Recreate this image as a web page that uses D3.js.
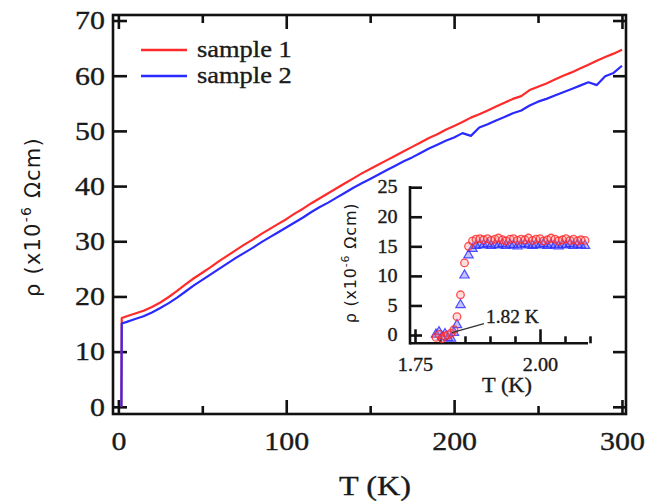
<!DOCTYPE html>
<html><head><meta charset="utf-8">
<script src="https://cdn.jsdelivr.net/npm/d3@7"></script>
<style>
html,body{margin:0;padding:0;background:#fff;}
svg{display:block;}
.serif{font-family:"Liberation Serif","Times New Roman",serif;fill:#1a1a1a;stroke:#1a1a1a;stroke-width:0.35px;}
.sans{font-family:"DejaVu Sans",sans-serif;fill:#1a1a1a;}
</style></head>
<body>
<svg id="chart" width="645" height="502"></svg>
<script>
// ---------- DATA ----------
const mainT = [1.8, 2, 5, 10, 15, 20, 25, 30, 35, 40, 45, 50, 55, 60, 65, 70, 75, 80, 85, 90, 95, 100,
  105, 110, 115, 120, 125, 130, 135, 140, 145, 150, 155, 160, 165, 170, 175, 180, 185, 190, 195, 200,
  205, 210, 215, 220, 225, 230, 235, 240, 245, 250, 255, 260, 265, 270, 275, 280, 285, 290, 295, 300];
const sample1 = [0, 16.1, 16.4, 16.9, 17.4, 18.1, 18.9, 19.9, 21.0, 22.2, 23.3, 24.3, 25.3, 26.4, 27.4, 28.4, 29.4,
  30.3, 31.3, 32.2, 33.1, 34.0, 35.0, 35.9, 36.9, 37.8, 38.7, 39.6, 40.5, 41.4, 42.3, 43.1, 43.9, 44.7, 45.5,
  46.3, 47.1, 47.9, 48.7, 49.4, 50.2, 50.9, 51.6, 52.4, 53.0, 53.7, 54.4, 55.1, 55.8, 56.3, 57.4, 58.0, 58.6,
  59.3, 60.0, 60.6, 61.3, 62.0, 62.7, 63.4, 64.0, 64.7];
const sample2 = [0, 15.1, 15.4, 15.9, 16.4, 17.1, 17.9, 18.8, 19.8, 20.9, 22.0, 23.0, 24.0, 25.0, 26.0, 27.0, 27.9,
  28.8, 29.8, 30.7, 31.6, 32.5, 33.4, 34.3, 35.3, 36.2, 37.0, 37.9, 38.8, 39.7, 40.5, 41.3, 42.1, 42.9, 43.7,
  44.5, 45.2, 46.0, 46.8, 47.5, 48.2, 48.8, 49.6, 49.1, 50.6, 51.2, 51.9, 52.5, 53.2, 53.7, 54.6, 55.3, 55.8,
  56.4, 57.0, 57.6, 58.2, 58.8, 58.3, 59.9, 60.5, 61.8];
const seriesNames = ["sample 1", "sample 2"];
const seriesColors = ["#ff2a2a", "#2a2aff"];

const mainXTicks = [0, 100, 200, 300];
const mainXMinor = [50, 150, 250];
const mainYTicks = [0, 10, 20, 30, 40, 50, 60, 70];

const insetT = [1.792, 1.798, 1.804, 1.810, 1.816, 1.822, 1.828, 1.834, 1.841, 1.849, 1.857, 1.865, 1.872,
  1.880, 1.887, 1.895, 1.902, 1.910, 1.917, 1.925, 1.932, 1.940, 1.947, 1.955, 1.962, 1.970, 1.977, 1.985,
  1.992, 2.000, 2.007, 2.015, 2.022, 2.030, 2.037, 2.045, 2.052, 2.060, 2.067, 2.075, 2.082, 2.090];
const inset1 = [-0.4, 0.1, -0.6, -0.2, 0.0, 0.3, 0.9, 3.1, 6.8, 12.2, 15.0, 15.9, 16.2, 16.3, 16.1, 16.3, 16.0,
  16.2, 16.4, 16.1, 15.9, 16.2, 16.3, 16.0, 16.2, 16.1, 16.4, 16.0, 16.2, 16.3, 15.9, 16.1, 16.4, 16.2, 15.9,
  16.1, 16.3, 16.0, 16.2, 15.9, 16.1, 16.0];
const inset2 = [0.1, 0.5, -0.3, 0.2, -0.5, -0.6, 0.4, 1.7, 5.1, 10.1, 13.5, 14.6, 15.1, 15.3, 15.2, 15.4, 15.1,
  15.3, 15.2, 15.4, 15.1, 15.3, 15.2, 15.0, 15.3, 15.4, 15.2, 15.1, 15.3, 15.2, 15.4, 15.1, 15.3, 15.2, 15.0,
  15.3, 15.2, 15.4, 15.1, 15.3, 15.2, 15.1];
const insetXTicksMajor = [1.75, 2.00];
const insetXTicksMinor = [1.80, 1.85, 1.90, 1.95, 2.05, 2.10];
const insetYTicks = [0, 5, 10, 15, 20, 25];
const tcValue = 1.82;
const tcLabel = "1.82 K";

// ---------- LAYOUT ----------
const svg = d3.select("#chart");
const SX = 1.15;

const x = d3.scaleLinear().domain([-3.2, 302.4]).range([113, 626]);
const y = d3.scaleLinear().domain([-1.3, 71.0]).range([414, 15]);

const xi = d3.scaleLinear().domain([1.74, 2.096]).range([410, 588]);
const yi = d3.scaleLinear().domain([-1.4, 25.2]).range([343.3, 186]);

function styleAxis(g, fs, sx) {
  g.select(".domain").remove();
  g.selectAll(".tick line").attr("stroke", "#111").attr("stroke-width", 2.6);
  g.selectAll(".tick text").attr("class", "serif").style("font-size", fs + "px")
    .attr("font-family", null).attr("fill", null)
    .attr("transform", `scale(${sx},1)`);
}

// main frame
svg.append("rect").attr("x", x.range()[0]).attr("y", y.range()[1])
  .attr("width", x.range()[1] - x.range()[0]).attr("height", y.range()[0] - y.range()[1])
  .attr("fill", "none").attr("stroke", "#111").attr("stroke-width", 2.6);

// main axes
svg.append("g").attr("transform", `translate(0,${y.range()[0]})`)
  .call(d3.axisBottom(x).tickValues(mainXTicks).tickSize(-14).tickSizeOuter(0).tickPadding(18).tickFormat(d3.format("d")))
  .call(g => styleAxis(g, 26, SX));
svg.append("g").attr("transform", `translate(0,${y.range()[0]})`)
  .call(d3.axisBottom(x).tickValues(mainXMinor).tickSize(-8).tickSizeOuter(0).tickFormat(""))
  .call(g => styleAxis(g, 26, SX));
svg.append("g").attr("transform", `translate(0,${y.range()[1]})`)
  .call(d3.axisTop(x).tickValues(mainXTicks).tickSize(-14).tickSizeOuter(0).tickFormat(""))
  .call(g => styleAxis(g, 26, SX));
svg.append("g").attr("transform", `translate(0,${y.range()[1]})`)
  .call(d3.axisTop(x).tickValues(mainXMinor).tickSize(-8).tickSizeOuter(0).tickFormat(""))
  .call(g => styleAxis(g, 26, SX));
svg.append("g").attr("transform", `translate(${x.range()[0]},0)`)
  .call(d3.axisLeft(y).tickValues(mainYTicks).tickSize(-14).tickSizeOuter(0).tickPadding(7).tickFormat(d3.format("d")))
  .call(g => styleAxis(g, 26, SX));
svg.append("g").attr("transform", `translate(${x.range()[1]},0)`)
  .call(d3.axisRight(y).tickValues(mainYTicks).tickSize(-13).tickSizeOuter(0).tickFormat(""))
  .call(g => styleAxis(g, 26, SX));

// main lines
svg.append("clipPath").attr("id", "mainclip").append("rect")
  .attr("x", x.range()[0]).attr("y", y.range()[1])
  .attr("width", x.range()[1] - x.range()[0]).attr("height", y.range()[0] - y.range()[1]);
const line = d3.line().x(d => x(d[0])).y(d => y(d[1]));
const mainSeries = [sample1, sample2];
mainSeries.forEach((s, i) => {
  svg.append("path").attr("clip-path", "url(#mainclip)")
    .datum(mainT.map((t, k) => [t, s[k]]))
    .attr("fill", "none").attr("stroke", seriesColors[i]).attr("stroke-width", 2.2)
    .attr("stroke-linejoin", "round").attr("d", line);
});

// legend
const leg = svg.append("g");
seriesNames.forEach((n, i) => {
  const ly = 50 + i * 26;
  leg.append("line").attr("x1", 141).attr("x2", 187).attr("y1", ly).attr("y2", ly)
    .attr("stroke", seriesColors[i]).attr("stroke-width", 2.4);
  leg.append("text").attr("class", "serif").attr("transform", `translate(197,${ly + 7}) scale(${SX},1)`)
    .style("font-size", "23px").text(n);
});

// main axis titles
svg.append("text").attr("class", "serif").attr("text-anchor", "middle")
  .attr("transform", `translate(375,495) scale(${SX},1)`).style("font-size", "28px").text("T (K)");
const yl = svg.append("text").attr("class", "sans").attr("text-anchor", "middle")
  .attr("transform", "translate(40,217) rotate(-90)")
  .style("font-size", "21px").style("letter-spacing", "1.2px");
yl.append("tspan").text("ρ (x10");
yl.append("tspan").attr("dy", -9).style("font-size", "14px").text("-6");
yl.append("tspan").attr("dy", 9).text(" Ωcm)");

// ---------- INSET ----------
const ig = svg.append("g");
ig.append("g").attr("transform", `translate(0,${yi.range()[0]})`)
  .call(d3.axisBottom(xi).tickValues(insetXTicksMajor).tickSize(-14).tickSizeOuter(0).tickPadding(15).tickFormat(d3.format(".2f")))
  .call(g => styleAxis(g, 18, 1.12));
ig.append("g").attr("transform", `translate(0,${yi.range()[0]})`)
  .call(d3.axisBottom(xi).tickValues(insetXTicksMinor).tickSize(-7).tickSizeOuter(0).tickFormat(""))
  .call(g => styleAxis(g, 18, 1.12));
ig.append("g").attr("transform", `translate(${xi.range()[0]},0)`)
  .call(d3.axisLeft(yi).tickValues(insetYTicks).tickSize(-12).tickSizeOuter(0).tickPadding(11).tickFormat(d3.format("d")))
  .call(g => styleAxis(g, 18, 1.12));
// axis lines
ig.append("line").attr("x1", xi.range()[0]).attr("x2", xi.range()[0])
  .attr("y1", yi.range()[1]).attr("y2", yi.range()[0] + 1.25)
  .attr("stroke", "#111").attr("stroke-width", 2.6);
ig.append("line").attr("x1", xi.range()[0]).attr("x2", xi.range()[1])
  .attr("y1", yi.range()[0]).attr("y2", yi.range()[0])
  .attr("stroke", "#111").attr("stroke-width", 2.6);

// inset markers: blue triangles then red circles
const tri = d3.symbol().type(d3.symbolTriangle).size(38);
ig.append("g").selectAll("path").data(insetT.map((t, k) => [t, inset2[k]])).join("path")
  .attr("transform", d => `translate(${xi(d[0])},${yi(d[1])})`)
  .attr("d", tri).attr("fill", "rgba(80,80,255,0.35)").attr("stroke", "rgba(40,40,255,0.8)").attr("stroke-width", 1.2);
ig.append("g").selectAll("circle").data(insetT.map((t, k) => [t, inset1[k]])).join("circle")
  .attr("cx", d => xi(d[0])).attr("cy", d => yi(d[1])).attr("r", 3.8)
  .attr("fill", "rgba(255,120,120,0.25)").attr("stroke", "rgba(255,40,40,0.8)").attr("stroke-width", 1.3);

// annotation
ig.append("line").attr("x1", xi(tcValue) + 2).attr("y1", yi(0.4))
  .attr("x2", xi(tcValue) + 34).attr("y2", yi(0.4) - 9)
  .attr("stroke", "#333").attr("stroke-width", 1.4);
ig.append("text").attr("class", "serif")
  .attr("transform", `translate(${xi(tcValue) + 36},${yi(0) - 12}) scale(1.08,1)`)
  .style("font-size", "18px").text(tcLabel);

// inset titles
ig.append("text").attr("class", "serif").attr("text-anchor", "middle")
  .attr("transform", `translate(507,392) scale(1.12,1)`).style("font-size", "20px").text("T (K)");
const yil = ig.append("text").attr("class", "sans").attr("text-anchor", "middle")
  .attr("transform", "translate(356,263) rotate(-90)")
  .style("font-size", "16px").style("letter-spacing", "0.8px");
yil.append("tspan").text("ρ (x10");
yil.append("tspan").attr("dy", -7).style("font-size", "11px").text("-6");
yil.append("tspan").attr("dy", 7).text(" Ωcm)");
</script>
</body></html>
